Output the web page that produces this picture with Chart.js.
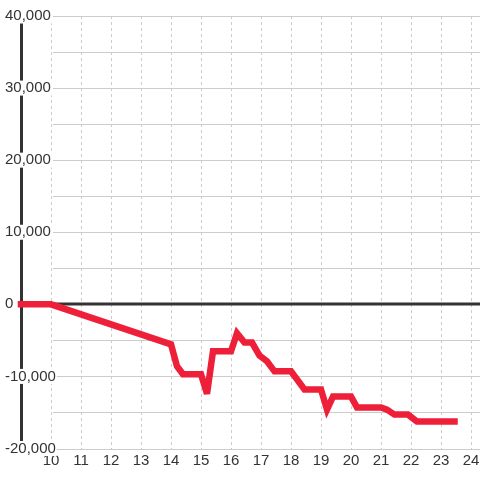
<!DOCTYPE html>
<html>
<head>
<meta charset="utf-8">
<script src="https://cdn.jsdelivr.net/npm/chart.js@4/dist/chart.umd.min.js"></script>
<style>
  html, body { margin: 0; padding: 0; background: #fff; }
  #wrap { width: 480px; height: 480px; }
</style>
</head>
<body>
<div id="wrap"><canvas id="c" width="480" height="480"></canvas></div>
<script>
// Hours of the day (x) and cumulative value (y)
const hours  = [9, 10, 14, 14.2, 14.4, 15, 15.2, 15.4, 16, 16.2, 16.45, 16.7, 16.95, 17.2, 17.45, 18, 18.45, 19, 19.2, 19.4, 20, 20.2, 21, 21.2, 21.45, 21.9, 22.2, 23.45];
const values = [0, 0, -5550, -8600, -9700, -9700, -12400, -6500, -6500, -4000, -5300, -5300, -7100, -7900, -9300, -9300, -11800, -11800, -14600, -12800, -12800, -14300, -14300, -14600, -15300, -15300, -16250, -16250];

const xTickLabels = [10, 11, 12, 13, 14, 15, 16, 17, 18, 19, 20, 21, 22, 23, 24];
const yTickLabels = [-20000, -10000, 0, 10000, 20000, 30000, 40000];

const xMin = 9, xMax = 24.3;
const yMin = -20000, yMax = 40000, yStep = 5000;

const fmt = v => v.toLocaleString('en-US');

const gridPlugin = {
  id: 'hgrid',
  beforeDraw(chart) {
    const { ctx, chartArea, scales: { x, y } } = chart;
    const left = x.getPixelForValue(xTickLabels[0]) + 2;
    ctx.save();
    ctx.strokeStyle = '#cccccc';
    ctx.lineWidth = 1;
    y.ticks.forEach(t => {
      const py = Math.round(y.getPixelForValue(t.value)) + 0.5;
      ctx.beginPath();
      ctx.moveTo(left, py);
      ctx.lineTo(chartArea.right, py);
      ctx.stroke();
    });
    ctx.restore();
  },
  beforeDatasetsDraw(chart) {
    const { ctx, chartArea, scales: { y } } = chart;
    const py = Math.round(y.getPixelForValue(0));
    ctx.save();
    ctx.strokeStyle = '#333333';
    ctx.lineWidth = 3;
    ctx.beginPath();
    ctx.moveTo(chartArea.left, py);
    ctx.lineTo(chartArea.right, py);
    ctx.stroke();
    ctx.restore();
    ctx.miterLimit = 4;
  }
};

new Chart(document.getElementById('c'), {
  type: 'line',
  data: {
    datasets: [{
      data: hours.map((h, i) => ({ x: h, y: values[i] })),
      borderColor: '#ee2039',
      borderWidth: 6.5,
      borderCapStyle: 'square',
      borderJoinStyle: 'miter',
      pointRadius: 0,
      tension: 0,
      fill: false,
      clip: false
    }]
  },
  options: {
    responsive: false,
    devicePixelRatio: 1,
    animation: false,
    layout: { padding: { top: 16, left: 21, right: 0, bottom: 6 } },
    plugins: { legend: { display: false }, tooltip: { enabled: false } },
    scales: {
      x: {
        type: 'linear',
        min: xMin,
        max: xMax,
        grid: {
          display: true,
          drawTicks: false,
          lineWidth: 1,
          color: c => (c.tick && xTickLabels.includes(c.tick.value)) ? '#cccccc' : 'rgba(0,0,0,0)'
        },
        border: { display: false, dash: [3, 3] },
        ticks: {
          stepSize: 1,
          includeBounds: false,
          autoSkip: false,
          maxRotation: 0,
          padding: 0,
          color: '#333',
          font: { family: '"Liberation Sans", Arial, sans-serif', size: 15, lineHeight: 1.7 },
          callback: v => xTickLabels.includes(v) ? String(v) : ''
        }
      },
      y: {
        type: 'linear',
        min: yMin,
        max: yMax,
        grid: { display: false, drawTicks: false },
        border: { display: true, color: '#333333', width: 3 },
        afterFit: s => { s.width = 0; },
        ticks: {
          stepSize: yStep,
          mirror: true,
          padding: -16,
          color: '#333',
          showLabelBackdrop: true,
          backdropColor: '#ffffff',
          backdropPadding: { top: 0, bottom: 0, left: 1, right: 1 },
          font: { family: '"Liberation Sans", Arial, sans-serif', size: 15, lineHeight: 1 },
          callback: v => yTickLabels.includes(v) ? fmt(v) : ''
        }
      }
    }
  },
  plugins: [gridPlugin]
});
</script>
</body>
</html>
